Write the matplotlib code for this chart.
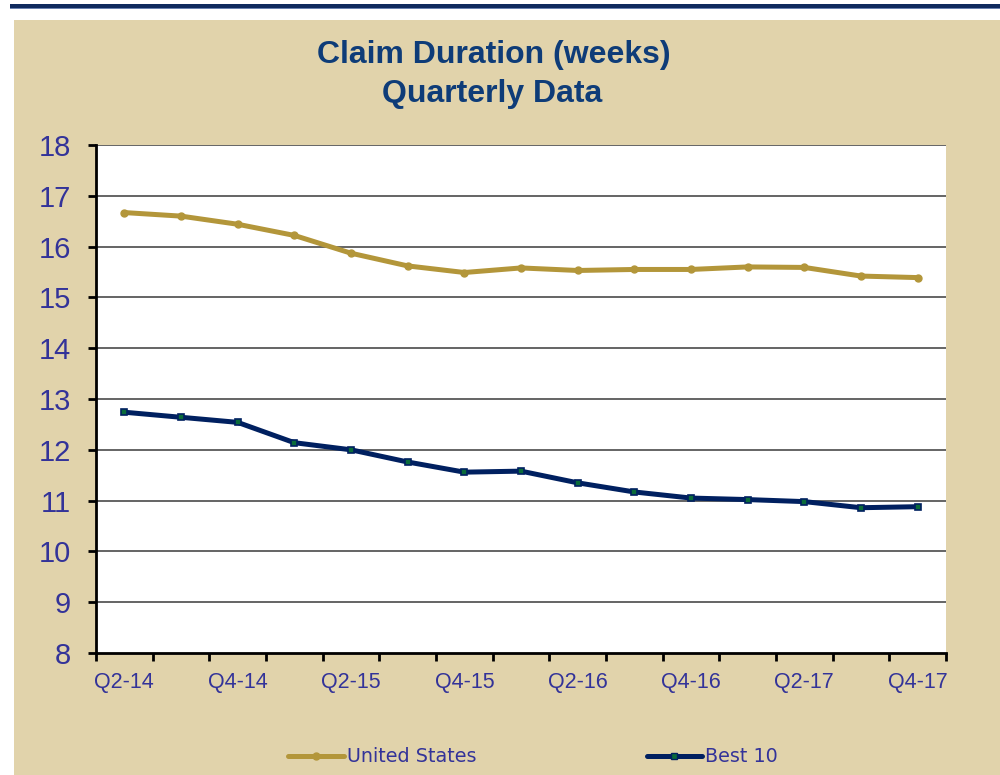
import matplotlib
matplotlib.use("Agg")
import matplotlib.pyplot as plt
from matplotlib.patches import Rectangle
from matplotlib.lines import Line2D
import numpy as np

quarters = ["Q2-14", "Q3-14", "Q4-14", "Q1-15", "Q2-15", "Q3-15", "Q4-15", "Q1-16",
            "Q2-16", "Q3-16", "Q4-16", "Q1-17", "Q2-17", "Q3-17", "Q4-17"]
united_states = [16.67, 16.60, 16.44, 16.22, 15.87, 15.62, 15.49, 15.58,
                 15.53, 15.55, 15.55, 15.60, 15.59, 15.42, 15.39]
best_10 = [12.74, 12.64, 12.54, 12.14, 12.00, 11.76, 11.56, 11.58,
           11.35, 11.17, 11.05, 11.02, 10.98, 10.86, 10.88]
y_ticks = list(range(8, 19))
title_lines = ["Claim Duration (weeks)", "Quarterly Data"]
series_names = ["United States", "Best 10"]

BEIGE = "#E1D3AB"
GOLD = "#B3963A"
NAVY = "#002060"
GREEN = "#0B6B3A"
TEXT = "#333399"
TITLE = "#0E3C78"

fig = plt.figure(figsize=(10, 7.75), dpi=100)
fig.patch.set_facecolor("white")
W, H = 1000, 775
# beige panel and top navy rule
fig.patches.append(Rectangle((14 / W, 0), 1 - 14 / W, (H - 20) / H,
                             transform=fig.transFigure, facecolor=BEIGE,
                             edgecolor="none", zorder=-10))
fig.patches.append(Rectangle((10 / W, (H - 8.5) / H), 1 - 10 / W, 4.5 / H,
                             transform=fig.transFigure, facecolor="#0F2A5E",
                             edgecolor="none", zorder=-10))
fig.patches.append(Rectangle((10 / W, (H - 9.3) / H), 1 - 10 / W, 1 / H,
                             transform=fig.transFigure, facecolor="#6A82B0",
                             edgecolor="none", zorder=-10))

ax = fig.add_axes([96 / W, (H - 653) / H, (946 - 96) / W, (653 - 145) / H])
ax.set_zorder(1)
ax.set_facecolor("white")

x = np.arange(len(quarters))
ax.plot(x, united_states, color=GOLD, lw=3.6, marker="o", ms=5,
        mfc=GOLD, mec=GOLD, solid_joinstyle="round", solid_capstyle="round",
        zorder=3, clip_on=False)
ax.plot(x, best_10, color=NAVY, lw=3.6, marker="s", ms=5,
        mfc=GREEN, mec=NAVY, mew=1.2, solid_joinstyle="round",
        solid_capstyle="round", zorder=3, clip_on=False)

ax.set_ylim(8, 18)
ax.set_yticks(y_ticks)
ax.set_xlim(-0.5, len(quarters) - 0.5)
ax.set_xticks(x[::2])
ax.set_xticklabels(quarters[::2])
ax.set_xticks(np.arange(-0.5, len(quarters), 1.0), minor=True)

for v in y_ticks[1:]:
    ax.axhline(v, color="#3A3A3A", lw=1.1, zorder=1)

for s in ["top", "right"]:
    ax.spines[s].set_visible(False)
for s in ["left", "bottom"]:
    ax.spines[s].set_color("black")
    ax.spines[s].set_linewidth(2)
    ax.spines[s].set_zorder(4)

ax.tick_params(axis="y", direction="out", length=6, width=2, color="black",
               labelsize=21, labelcolor=TEXT, pad=12)
ax.tick_params(axis="x", which="major", length=0, labelsize=15.5,
               labelcolor=TEXT, pad=14)
ax.tick_params(axis="x", which="minor", direction="out", length=6, width=2,
               color="black")
for lab in ax.get_yticklabels() + ax.get_xticklabels():
    lab.set_fontfamily("Liberation Sans")

fig.text(494 / W, 1 - 55 / H, title_lines[0], ha="center", va="center",
         fontsize=23, fontweight="bold", color=TITLE, family="Liberation Sans")
fig.text(492 / W, 1 - 94 / H, title_lines[1], ha="center", va="center",
         fontsize=23, fontweight="bold", color=TITLE, family="Liberation Sans")

handles = [
    Line2D([], [], color=GOLD, lw=3.6, marker="o", ms=5, mfc=GOLD, mec=GOLD,
           solid_capstyle="round"),
    Line2D([], [], color=NAVY, lw=3.6, marker="s", ms=5, mfc=GREEN, mec=NAVY,
           solid_capstyle="round"),
]
leg = fig.legend(handles, series_names, loc="center", ncol=2,
                 bbox_to_anchor=(533 / W, 1 - 757 / H), frameon=False,
                 handlelength=2.9, handletextpad=0.15, columnspacing=8.9,
                 prop={"family": "DejaVu Sans", "size": 13.8}, numpoints=1)
for t in leg.get_texts():
    t.set_color(TEXT)

fig.savefig("out.png", dpi=100, facecolor=fig.get_facecolor())
